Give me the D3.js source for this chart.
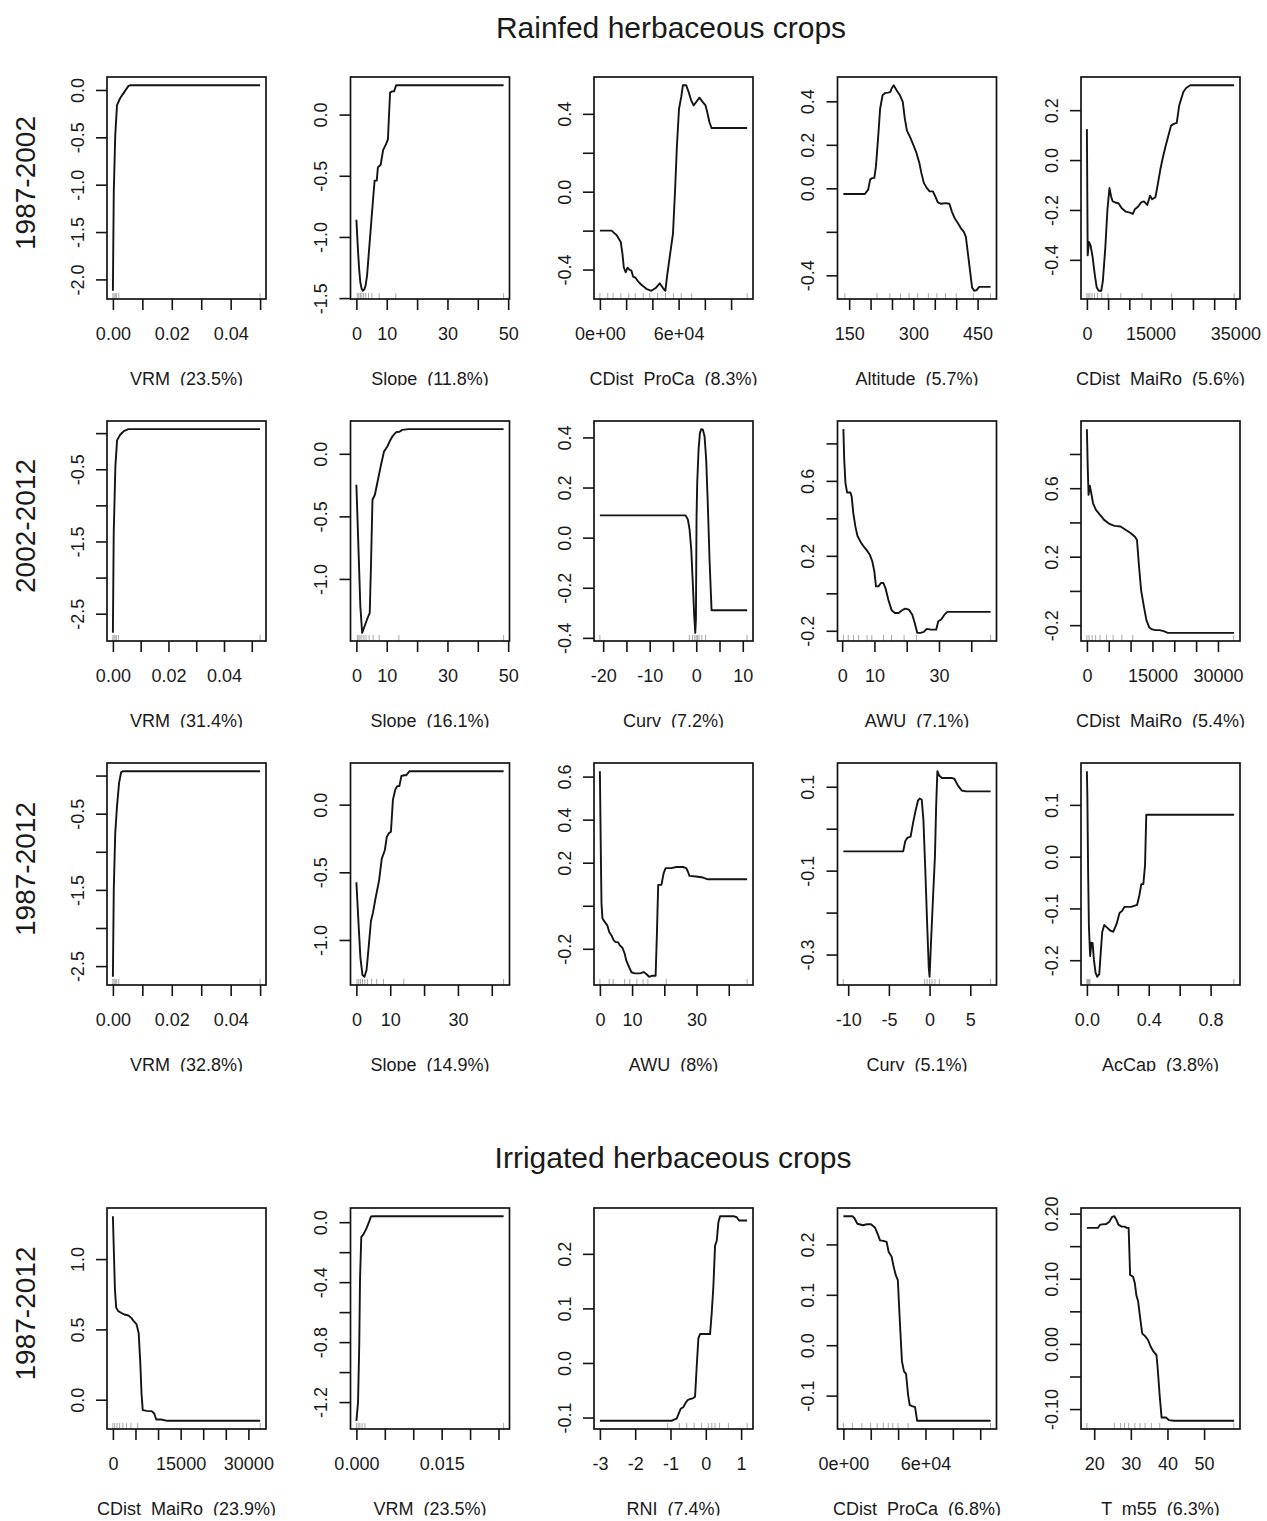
<!DOCTYPE html>
<html>
<head>
<meta charset="utf-8">
<script src="https://cdn.jsdelivr.net/npm/d3@7"></script>
<style>
  body { margin: 0; background: #fff; }
  svg text { font-family: "Liberation Sans", Arial, Helvetica, sans-serif; fill: #1a1a1a; }
</style>
</head>
<body>
<svg id="fig" width="1267" height="1521"></svg>
<script>
// ---------------------------------------------------------------
// Partial dependence of the boosted-tree models on each predictor
// Each curve: [predictor value, fitted function]
// ---------------------------------------------------------------

// Section titles and period labels
const sectionTitles = ["Rainfed herbaceous crops", "Irrigated herbaceous crops"];
const periodLabels = ["1987-2002", "2002-2012", "1987-2012", "1987-2012"];

// Predictor names and relative influence (%) for each row
const row1Names = ["VRM", "Slope", "CDist  ProCa", "Altitude", "CDist  MaiRo"];
const row1Infl  = [23.5, 11.8, 8.3, 5.7, 5.6];
const row2Names = ["VRM", "Slope", "Curv", "AWU", "CDist  MaiRo"];
const row2Infl  = [31.4, 16.1, 7.2, 7.1, 5.4];
const row3Names = ["VRM", "Slope", "AWU", "Curv", "AcCap"];
const row3Infl  = [32.8, 14.9, 8, 5.1, 3.8];
const row4Names = ["CDist  MaiRo", "VRM", "RNI", "CDist  ProCa", "T  m55"];
const row4Infl  = [23.9, 23.5, 7.4, 6.8, 6.3];

// ---- Rainfed, 1987-2002 ----
const r1Vrm = [[0,-2.12],[0.0003,-1.08],[0.0008,-0.48],[0.0014,-0.16],[0.0025,-0.085],[0.0039,-0.02],[0.0053,0.043],[0.006,0.05],[0.05,0.05]];
const r1Slope = [[0,-0.86],[0.5,-1.1],[0.9,-1.26],[1.3,-1.37],[1.7,-1.42],[2.1,-1.44],[2.6,-1.43],[3.0,-1.40],[3.5,-1.32],[4.1,-1.13],[4.8,-0.91],[5.5,-0.69],[6.0,-0.54],[6.7,-0.54],[7.1,-0.43],[8.0,-0.41],[8.8,-0.29],[9.8,-0.24],[10.4,-0.20],[10.7,-0.03],[11.1,0.18],[11.8,0.19],[12.4,0.19],[13.1,0.24],[48.5,0.24]];
const r1ProCa = [[0,-0.2],[8900,-0.2],[12700,-0.223],[15900,-0.258],[17200,-0.319],[18200,-0.388],[19700,-0.414],[21000,-0.391],[22800,-0.402],[24000,-0.405],[25300,-0.436],[27300,-0.443],[29100,-0.461],[31600,-0.478],[35400,-0.499],[39200,-0.509],[42500,-0.495],[45600,-0.471],[48100,-0.495],[49900,-0.509],[51400,-0.423],[53200,-0.336],[55700,-0.215],[57200,-0.007],[58700,0.235],[60300,0.426],[62000,0.487],[63300,0.547],[65800,0.547],[67600,0.513],[69600,0.469],[71400,0.443],[73400,0.461],[75900,0.483],[78000,0.464],[80500,0.443],[81800,0.409],[83500,0.357],[85100,0.327],[112200,0.327]];
const r1Alt = [[136.5,-0.026],[186.6,-0.026],[194.3,-0.006],[199.1,0.040],[203.9,0.047],[208.8,0.048],[212.6,0.102],[217.4,0.226],[222.3,0.366],[228.0,0.428],[234.8,0.439],[241.5,0.440],[246.3,0.443],[249.2,0.459],[254.0,0.474],[260.8,0.451],[268.5,0.428],[275.2,0.397],[280.1,0.319],[284.9,0.265],[292.6,0.234],[300.3,0.198],[307.0,0.164],[313.8,0.118],[318.6,0.071],[324.4,0.025],[331.1,0.002],[337.9,-0.014],[345.6,-0.014],[350.4,-0.034],[357.1,-0.065],[364.8,-0.071],[374.5,-0.068],[384.1,-0.071],[389.9,-0.107],[396.6,-0.138],[403.4,-0.158],[411.1,-0.184],[417.8,-0.2],[422.6,-0.223],[427.5,-0.301],[432.3,-0.378],[437.1,-0.456],[441.9,-0.471],[447.7,-0.468],[453.5,-0.453],[480.4,-0.453]];
const r1MaiRo = [[0,0.124],[190,-0.382],[480,-0.328],[870,-0.342],[1350,-0.389],[1840,-0.457],[2320,-0.511],[2800,-0.524],[3390,-0.524],[3770,-0.484],[4350,-0.349],[4840,-0.2],[5320,-0.112],[5710,-0.146],[6090,-0.166],[6670,-0.170],[7450,-0.173],[8220,-0.193],[9190,-0.207],[10150,-0.211],[10830,-0.216],[11320,-0.197],[12090,-0.186],[12770,-0.170],[13440,-0.166],[14220,-0.180],[14890,-0.143],[15380,-0.157],[16150,-0.149],[16630,-0.105],[17310,-0.038],[17890,0.009],[18570,0.057],[19250,0.1],[19830,0.138],[20500,0.145],[21180,0.149],[21760,0.219],[22240,0.246],[22730,0.273],[23400,0.289],[24370,0.3],[34700,0.3]];

// ---- Rainfed, 2002-2012 ----
const r2Vrm = [[0,-2.765],[0.0003,-1.38],[0.0009,-0.46],[0.0015,-0.10],[0.0026,-0.023],[0.0041,0.032],[0.0056,0.055],[0.053,0.055]];
const r2Slope = [[0,-0.247],[0.8,-0.846],[1.3,-1.218],[1.9,-1.431],[2.7,-1.378],[3.5,-1.324],[4.4,-1.271],[4.8,-0.899],[5.3,-0.367],[6.1,-0.327],[7.1,-0.207],[8.0,-0.101],[9.1,0.019],[10.2,0.059],[11.1,0.106],[12.0,0.144],[13.1,0.173],[14.2,0.176],[15.1,0.191],[17.1,0.197],[48.5,0.197]];
const r2Curv = [[-20.7,0.089],[-2.29,0.089],[-1.79,0.072],[-1.43,0.032],[-1.07,-0.048],[-0.71,-0.194],[-0.43,-0.314],[-0.21,-0.380],[-0.07,-0.327],[0,-0.114],[0.07,0.085],[0.21,0.218],[0.5,0.351],[0.79,0.417],[1.07,0.433],[1.43,0.431],[1.79,0.404],[2.14,0.311],[2.5,0.125],[2.86,-0.088],[3.29,-0.290],[4.29,-0.290],[10.93,-0.290]];
const r2Awu = [[0.38,0.876],[0.64,0.712],[1.02,0.588],[1.53,0.538],[2.56,0.538],[2.94,0.517],[3.45,0.428],[4.09,0.357],[4.73,0.307],[5.62,0.277],[6.65,0.250],[7.67,0.229],[8.56,0.206],[9.33,0.171],[9.97,0.117],[10.48,0.037],[11.25,0.037],[12.01,0.055],[12.78,0.055],[13.42,0.028],[14.31,-0.034],[15.34,-0.091],[16.36,-0.105],[17.51,-0.105],[18.53,-0.091],[19.55,-0.082],[20.70,-0.087],[21.73,-0.114],[22.49,-0.158],[23.26,-0.211],[24.28,-0.211],[25.30,-0.206],[26.20,-0.190],[27.48,-0.194],[29.14,-0.194],[29.78,-0.149],[30.67,-0.140],[31.69,-0.114],[32.59,-0.099],[46.0,-0.099]];
const r2MaiRo = [[0,0.945],[190,0.727],[380,0.561],[660,0.614],[940,0.580],[1410,0.512],[2070,0.473],[3010,0.444],[3950,0.415],[5170,0.391],[6300,0.380],[7710,0.376],[8930,0.356],[10060,0.337],[11000,0.317],[11470,0.298],[11940,0.141],[12410,0.005],[13060,-0.093],[13630,-0.171],[14290,-0.214],[14940,-0.225],[15700,-0.229],[16640,-0.229],[17580,-0.235],[18520,-0.245],[33700,-0.245]];

// ---- Rainfed, 1987-2012 ----
const r3Vrm = [[0,-2.64],[0.0003,-1.5],[0.0008,-0.754],[0.0014,-0.40],[0.0021,-0.096],[0.0028,0.044],[0.0035,0.057],[0.05,0.057]];
const r3Slope = [[0,-0.574],[0.7,-0.910],[1.2,-1.135],[1.8,-1.259],[2.4,-1.272],[3.0,-1.222],[3.6,-1.060],[4.3,-0.860],[4.9,-0.798],[5.7,-0.686],[6.7,-0.561],[7.5,-0.399],[8.4,-0.337],[9.0,-0.237],[9.6,-0.212],[10.2,-0.2],[10.8,0.037],[11.5,0.112],[12.1,0.137],[12.7,0.137],[13.3,0.212],[14.1,0.217],[14.7,0.217],[15.7,0.247],[43.5,0.247]];
const r3Awu = [[0,0.625],[0.1,0.495],[0.3,0.230],[0.5,0.011],[0.8,-0.059],[1.5,-0.075],[2.3,-0.091],[2.9,-0.122],[3.6,-0.138],[4.3,-0.161],[4.9,-0.169],[5.6,-0.169],[6.2,-0.184],[7.0,-0.195],[7.7,-0.223],[8.2,-0.255],[9.1,-0.286],[9.8,-0.309],[10.8,-0.314],[12.4,-0.314],[13.6,-0.308],[14.4,-0.317],[15.3,-0.330],[16.3,-0.325],[17.3,-0.325],[17.7,-0.130],[18.1,0.097],[19.1,0.097],[19.8,0.152],[20.4,0.175],[22.2,0.175],[23.7,0.180],[25.8,0.180],[26.8,0.175],[27.3,0.159],[27.8,0.139],[29.9,0.136],[32.0,0.131],[33.5,0.123],[45.7,0.123]];
const r3Curv = [[-10.59,-0.054],[-3.24,-0.054],[-2.99,-0.030],[-2.74,-0.022],[-2.33,-0.019],[-2.03,0.014],[-1.72,0.043],[-1.42,0.067],[-1.22,0.072],[-0.96,0.069],[-0.76,0.022],[-0.51,-0.106],[-0.30,-0.226],[-0.10,-0.331],[0,-0.353],[0.15,-0.283],[0.41,-0.170],[0.66,-0.066],[0.81,0.055],[0.96,0.137],[1.17,0.127],[1.52,0.121],[2.69,0.121],[3.04,0.119],[3.45,0.104],[3.95,0.091],[4.46,0.089],[7.50,0.089]];
const r3AcCap = [[0,0.165],[0.003,0.118],[0.008,-0.030],[0.013,-0.134],[0.021,-0.192],[0.029,-0.166],[0.037,-0.167],[0.045,-0.198],[0.056,-0.224],[0.067,-0.232],[0.08,-0.227],[0.088,-0.192],[0.099,-0.146],[0.112,-0.132],[0.131,-0.137],[0.152,-0.143],[0.171,-0.145],[0.192,-0.130],[0.211,-0.109],[0.227,-0.105],[0.243,-0.097],[0.285,-0.097],[0.325,-0.093],[0.339,-0.075],[0.352,-0.053],[0.365,-0.053],[0.376,-0.017],[0.384,0.081],[0.952,0.081]];

// ---- Irrigated, 1987-2012 ----
const r4MaiRo = [[0,1.305],[180,1.095],[450,0.785],[730,0.654],[1180,0.630],[1810,0.618],[2540,0.606],[3440,0.599],[4080,0.582],[4620,0.558],[5250,0.535],[5710,0.475],[6070,0.260],[6340,0.045],[6610,-0.074],[7520,-0.079],[8600,-0.081],[9150,-0.098],[9600,-0.141],[10690,-0.141],[12050,-0.150],[12950,-0.150],[32600,-0.150]];
const r4Vrm = [[0,-1.325],[0.00029,-1.203],[0.0005,-0.824],[0.00064,-0.379],[0.00086,-0.1],[0.00129,-0.078],[0.00179,-0.040],[0.00221,0.0],[0.00257,0.038],[0.00307,0.040],[0.0259,0.040]];
const r4Rni = [[-3,-0.106],[-0.967,-0.106],[-0.901,-0.104],[-0.825,-0.102],[-0.768,-0.093],[-0.712,-0.084],[-0.636,-0.081],[-0.570,-0.073],[-0.513,-0.068],[-0.447,-0.066],[-0.371,-0.065],[-0.305,-0.062],[-0.258,-0.007],[-0.210,0.045],[-0.163,0.053],[-0.097,0.053],[0.121,0.053],[0.168,0.092],[0.215,0.141],[0.262,0.215],[0.310,0.224],[0.357,0.258],[0.404,0.269],[0.499,0.269],[0.783,0.269],[0.877,0.267],[0.943,0.261],[1.17,0.261]];
const r4ProCa = [[0,0.256],[6600,0.256],[8100,0.252],[10200,0.241],[14200,0.238],[17200,0.240],[20200,0.240],[23200,0.233],[25300,0.219],[26800,0.208],[29200,0.207],[31600,0.205],[33100,0.185],[35200,0.176],[36700,0.156],[38300,0.139],[39800,0.129],[41300,0.045],[42800,-0.032],[44300,-0.052],[45800,-0.057],[47300,-0.099],[48500,-0.119],[50300,-0.121],[52400,-0.123],[53900,-0.150],[107600,-0.150]];
const r4Tm55 = [[18.0,0.178],[21.0,0.178],[21.6,0.183],[23.3,0.184],[24.2,0.188],[24.9,0.195],[25.5,0.196],[26.1,0.190],[26.6,0.183],[27.5,0.180],[28.3,0.180],[28.9,0.178],[29.4,0.178],[29.8,0.106],[30.6,0.103],[31.1,0.093],[31.5,0.075],[32.0,0.065],[32.5,0.042],[33.1,0.016],[33.9,0.012],[34.7,0.006],[35.4,-0.004],[36.2,-0.012],[37.0,-0.017],[37.3,-0.035],[37.9,-0.081],[38.4,-0.113],[39.6,-0.113],[40.4,-0.117],[41.8,-0.118],[58.2,-0.118]];

// Deciles of each predictor (rug marks)
const r1VrmRug = [0, 0.0004, 0.0008, 0.0012, 0.002, 0.05];
const r1SlopeRug = [0.3, 0.8, 1.3, 1.8, 2.4, 3.1, 4.0, 5.1, 7.5, 13, 48.5];
const r1ProCaRug = [0, 6000, 10000, 16000, 22000, 27000, 33000, 38000, 44000, 50000, 56000, 62000, 70000, 112200];
const r1AltRug = [140, 215, 245, 270, 290, 310, 335, 355, 375, 400, 440, 480];
const r1MaiRoRug = [0, 300, 700, 1200, 1800, 2500, 3500, 5000, 8000, 13000, 20000, 34700];
const r2VrmRug = [0, 0.0004, 0.0008, 0.0013, 0.002, 0.053];
const r2SlopeRug = [0.3, 0.8, 1.2, 1.8, 2.5, 3.2, 4.2, 5.5, 7.5, 14, 48.5];
const r2CurvRug = [-20.7, -1.5, -0.8, -0.3, 0, 0.3, 0.6, 1.2, 2, 10.9];
const r2AwuRug = [0.4, 1.9, 3.5, 5.1, 7.7, 9.2, 12.8, 15.3, 19.2, 23, 46];
const r2MaiRoRug = [0, 500, 1200, 2000, 3000, 4500, 6000, 8000, 10500, 33600];
const r3VrmRug = [0, 0.0004, 0.0008, 0.0013, 0.002, 0.05];
const r3SlopeRug = [0.2, 0.7, 1.2, 1.8, 2.5, 3.3, 4.5, 6, 8, 14, 43.5];
const r3AwuRug = [0, 2.9, 4.1, 7.7, 9.3, 11.5, 13.4, 14.9, 20.6, 45.7];
const r3CurvRug = [-10.6, -0.6, -0.3, 0, 0.3, 0.66, 1.2, 7.5];
const r3AcCapRug = [0, 0.005, 0.01, 0.015, 0.02, 0.95];
const r4MaiRoRug = [0, 400, 900, 1500, 2200, 3000, 4000, 5500, 32600];
const r4VrmRug = [0, 0.0003, 0.0006, 0.001, 0.0015, 0.0259];
const r4RniRug = [-1.08, -0.75, -0.54, -0.33, -0.12, 0.07, 0.17, 0.26, 0.39, 0.64, 1.17];
const r4ProCaRug = [0, 6600, 13500, 19900, 24700, 29200, 32800, 36100, 40000, 47300, 107500];
const r4Tm55Rug = [18, 25.5, 27.2, 28.3, 29.4, 31.1, 32.5, 33.9, 35.6, 37.9, 58.1];

// Axis ticks ("" = tick drawn without a label)
const vrmXt = [0, 0.01, 0.02, 0.03, 0.04, 0.05];
const vrmXl = ["0.00", "", "0.02", "", "0.04", ""];
const slope50Xt = [0, 10, 20, 30, 40, 50];
const slope50Xl = ["0", "10", "", "30", "", "50"];
const to40Xt = [0, 10, 20, 30, 40];
const to40Xl = ["0", "10", "", "30", ""];
const proCaXt = [0, 20000, 40000, 60000, 80000, 100000];
const proCaXl = ["0e+00", "", "", "6e+04", "", ""];
const altXt = [150, 200, 250, 300, 350, 400, 450];
const altXl = ["150", "", "", "300", "", "", "450"];
const maiRo35Xt = [0, 5000, 10000, 15000, 20000, 25000, 30000, 35000];
const maiRo35Xl = ["0", "", "", "15000", "", "", "", "35000"];
const maiRo30Xt = [0, 5000, 10000, 15000, 20000, 25000, 30000];
const maiRo30Xl = ["0", "", "", "15000", "", "", "30000"];
const curv20Xt = [-20, -15, -10, -5, 0, 5, 10];
const curv20Xl = ["-20", "", "-10", "", "0", "", "10"];
const curv10Xt = [-10, -5, 0, 5];
const curv10Xl = ["-10", "-5", "0", "5"];
const acCapXt = [0, 0.2, 0.4, 0.6, 0.8];
const acCapXl = ["0.0", "", "0.4", "", "0.8"];
const vrmSmallXt = [0, 0.005, 0.01, 0.015, 0.02, 0.025];
const vrmSmallXl = ["0.000", "", "", "0.015", "", ""];
const rniXt = [-3, -2, -1, 0, 1];
const rniXl = ["-3", "-2", "-1", "0", "1"];
const tm55Xt = [20, 30, 40, 50];
const tm55Xl = ["20", "30", "40", "50"];

const r1VrmYt = [0, -0.5, -1, -1.5, -2];            const r1VrmYl = ["0.0", "-0.5", "-1.0", "-1.5", "-2.0"];
const r1SlopeYt = [0, -0.5, -1, -1.5];              const r1SlopeYl = ["0.0", "-0.5", "-1.0", "-1.5"];
const r1ProCaYt = [0.4, 0.2, 0, -0.2, -0.4];        const r1ProCaYl = ["0.4", "", "0.0", "", "-0.4"];
const r1AltYt = [0.4, 0.2, 0, -0.2, -0.4];          const r1AltYl = ["0.4", "0.2", "0.0", "", "-0.4"];
const r1MaiRoYt = [0.2, 0, -0.2, -0.4];             const r1MaiRoYl = ["0.2", "0.0", "-0.2", "-0.4"];
const r2VrmYt = [0, -0.5, -1, -1.5, -2, -2.5];      const r2VrmYl = ["", "-0.5", "", "-1.5", "", "-2.5"];
const r2SlopeYt = [0, -0.5, -1];                    const r2SlopeYl = ["0.0", "-0.5", "-1.0"];
const r2CurvYt = [0.4, 0.2, 0, -0.2, -0.4];         const r2CurvYl = ["0.4", "0.2", "0.0", "-0.2", "-0.4"];
const r2AwuYt = [0.8, 0.6, 0.4, 0.2, 0, -0.2];      const r2AwuYl = ["", "0.6", "", "0.2", "", "-0.2"];
const r2MaiRoYt = [0.8, 0.6, 0.4, 0.2, 0, -0.2];    const r2MaiRoYl = ["", "0.6", "", "0.2", "", "-0.2"];
const r3VrmYt = [0, -0.5, -1, -1.5, -2, -2.5];      const r3VrmYl = ["", "-0.5", "", "-1.5", "", "-2.5"];
const r3SlopeYt = [0, -0.5, -1];                    const r3SlopeYl = ["0.0", "-0.5", "-1.0"];
const r3AwuYt = [0.6, 0.4, 0.2, 0, -0.2];           const r3AwuYl = ["0.6", "0.4", "0.2", "", "-0.2"];
const r3CurvYt = [0.1, 0, -0.1, -0.2, -0.3];        const r3CurvYl = ["0.1", "", "-0.1", "", "-0.3"];
const r3AcCapYt = [0.1, 0, -0.1, -0.2];             const r3AcCapYl = ["0.1", "0.0", "-0.1", "-0.2"];
const r4MaiRoYt = [1, 0.5, 0];                      const r4MaiRoYl = ["1.0", "0.5", "0.0"];
const r4VrmYt = [0, -0.2, -0.4, -0.6, -0.8, -1, -1.2]; const r4VrmYl = ["0.0", "", "-0.4", "", "-0.8", "", "-1.2"];
const r4RniYt = [0.2, 0.1, 0, -0.1];                const r4RniYl = ["0.2", "0.1", "0.0", "-0.1"];
const r4ProCaYt = [0.2, 0.1, 0, -0.1];              const r4ProCaYl = ["0.2", "0.1", "0.0", "-0.1"];
const r4Tm55Yt = [0.2, 0.15, 0.1, 0.05, 0, -0.05, -0.1]; const r4Tm55Yl = ["0.20", "", "0.10", "", "0.00", "", "-0.10"];

// Panel table: row, column and the arrays each panel draws
const panels = [
  [0, 0, r1Vrm,   r1VrmRug,   vrmXt,     vrmXl,     r1VrmYt,   r1VrmYl],
  [0, 1, r1Slope, r1SlopeRug, slope50Xt, slope50Xl, r1SlopeYt, r1SlopeYl],
  [0, 2, r1ProCa, r1ProCaRug, proCaXt,   proCaXl,   r1ProCaYt, r1ProCaYl],
  [0, 3, r1Alt,   r1AltRug,   altXt,     altXl,     r1AltYt,   r1AltYl],
  [0, 4, r1MaiRo, r1MaiRoRug, maiRo35Xt, maiRo35Xl, r1MaiRoYt, r1MaiRoYl],
  [1, 0, r2Vrm,   r2VrmRug,   vrmXt,     vrmXl,     r2VrmYt,   r2VrmYl],
  [1, 1, r2Slope, r2SlopeRug, slope50Xt, slope50Xl, r2SlopeYt, r2SlopeYl],
  [1, 2, r2Curv,  r2CurvRug,  curv20Xt,  curv20Xl,  r2CurvYt,  r2CurvYl],
  [1, 3, r2Awu,   r2AwuRug,   to40Xt,    to40Xl,    r2AwuYt,   r2AwuYl],
  [1, 4, r2MaiRo, r2MaiRoRug, maiRo30Xt, maiRo30Xl, r2MaiRoYt, r2MaiRoYl],
  [2, 0, r3Vrm,   r3VrmRug,   vrmXt,     vrmXl,     r3VrmYt,   r3VrmYl],
  [2, 1, r3Slope, r3SlopeRug, to40Xt,    to40Xl,    r3SlopeYt, r3SlopeYl],
  [2, 2, r3Awu,   r3AwuRug,   to40Xt,    to40Xl,    r3AwuYt,   r3AwuYl],
  [2, 3, r3Curv,  r3CurvRug,  curv10Xt,  curv10Xl,  r3CurvYt,  r3CurvYl],
  [2, 4, r3AcCap, r3AcCapRug, acCapXt,   acCapXl,   r3AcCapYt, r3AcCapYl],
  [3, 0, r4MaiRo, r4MaiRoRug, maiRo30Xt, maiRo30Xl, r4MaiRoYt, r4MaiRoYl],
  [3, 1, r4Vrm,   r4VrmRug,   vrmSmallXt, vrmSmallXl, r4VrmYt, r4VrmYl],
  [3, 2, r4Rni,   r4RniRug,   rniXt,     rniXl,     r4RniYt,   r4RniYl],
  [3, 3, r4ProCa, r4ProCaRug, proCaXt,   proCaXl,   r4ProCaYt, r4ProCaYl],
  [3, 4, r4Tm55,  r4Tm55Rug,  tm55Xt,    tm55Xl,    r4Tm55Yt,  r4Tm55Yl]
];
const rowNames = [row1Names, row2Names, row3Names, row4Names];
const rowInfl  = [row1Infl, row2Infl, row3Infl, row4Infl];

// ---------------- layout ----------------
const COL_X0 = 107, COL_STEP = 243.5, BOX_W = 159;
const ROW_TOP = [77, 421, 763, 1208];
const ROW_BOT = [299, 641, 985, 1429];
const TICK = 11;
const INK = "#141414";

const svg = d3.select("#fig");
svg.append("rect").attr("width", 1267).attr("height", 1521).attr("fill", "#fff");
const defs = svg.append("defs");

// 4% padding on each side of the data range
function padded(ext) {
  const p = (ext[1] - ext[0]) * 0.04;
  return [ext[0] - p, ext[1] + p];
}

// Section titles
svg.append("text").attr("x", 671).attr("y", 38).attr("text-anchor", "middle")
  .style("font-size", "30px").text(sectionTitles[0]);
svg.append("text").attr("x", 673).attr("y", 1168).attr("text-anchor", "middle")
  .style("font-size", "30px").text(sectionTitles[1]);

// Period labels on the left margin
periodLabels.forEach((lab, r) => {
  const cy = (ROW_TOP[r] + ROW_BOT[r]) / 2 - 5;
  svg.append("text")
    .attr("transform", `translate(35,${cy}) rotate(-90)`)
    .attr("text-anchor", "middle")
    .style("font-size", "28px")
    .text(lab);
});

const line = d3.line().curve(d3.curveLinear);

panels.forEach((p, i) => {
  const [row, col, data, rug, xt, xl, yt, yl] = p;
  const left = COL_X0 + COL_STEP * col, right = left + BOX_W;
  const top = ROW_TOP[row], bot = ROW_BOT[row];

  const xs = d3.scaleLinear().domain(padded(d3.extent(data, d => d[0]))).range([left, right]);
  const ys = d3.scaleLinear().domain(padded(d3.extent(data, d => d[1]))).range([bot, top]);

  const g = svg.append("g");

  // rug of predictor deciles
  g.append("g").selectAll("line").data(rug).join("line")
    .attr("x1", d => xs(d)).attr("x2", d => xs(d))
    .attr("y1", bot).attr("y2", bot - 6)
    .attr("stroke", "#a8a8a8").attr("stroke-width", 1);

  // fitted function
  g.append("path")
    .attr("d", line.x(d => xs(d[0])).y(d => ys(d[1]))(data))
    .attr("fill", "none").attr("stroke", INK)
    .attr("stroke-width", 1.9).attr("stroke-linejoin", "round");

  // x axis
  const ax = g.append("g").attr("transform", `translate(0,${bot})`)
    .call(d3.axisBottom(xs).tickValues(xt).tickFormat((d, k) => xl[k])
      .tickSizeInner(TICK).tickSizeOuter(0));
  ax.attr("font-size", null).attr("font-family", null);
  ax.select(".domain").remove();
  ax.selectAll(".tick line").attr("stroke", INK).attr("stroke-width", 1.6);
  ax.selectAll(".tick text").attr("y", 41).attr("dy", null)
    .style("font-size", "18px");

  // y axis with labels parallel to the axis
  const ay = g.append("g").attr("transform", `translate(${left},0)`)
    .call(d3.axisLeft(ys).tickValues(yt).tickFormat((d, k) => yl[k])
      .tickSizeInner(TICK).tickSizeOuter(0));
  ay.attr("font-size", null).attr("font-family", null);
  ay.select(".domain").remove();
  ay.selectAll(".tick line").attr("stroke", INK).attr("stroke-width", 1.6);
  ay.selectAll(".tick text")
    .attr("x", null).attr("dy", null)
    .attr("transform", "translate(-23.5,0) rotate(-90)")
    .attr("text-anchor", "middle")
    .style("font-size", "18px");

  // frame
  g.append("rect").attr("x", left).attr("y", top)
    .attr("width", BOX_W).attr("height", bot - top)
    .attr("fill", "none").attr("stroke", INK).attr("stroke-width", 1.7);

  // predictor label with relative influence, descenders trimmed
  const clipId = "lab" + i;
  defs.append("clipPath").attr("id", clipId).append("rect")
    .attr("x", left - 80).attr("y", bot + 60)
    .attr("width", BOX_W + 160).attr("height", 26.5);
  g.append("text")
    .attr("clip-path", `url(#${clipId})`)
    .attr("x", (left + right) / 2).attr("y", bot + 86)
    .attr("text-anchor", "middle")
    .style("font-size", "18px").style("white-space", "pre")
    .text(`${rowNames[row][col]}  (${rowInfl[row][col]}%)`);
});
</script>
</body>
</html>
